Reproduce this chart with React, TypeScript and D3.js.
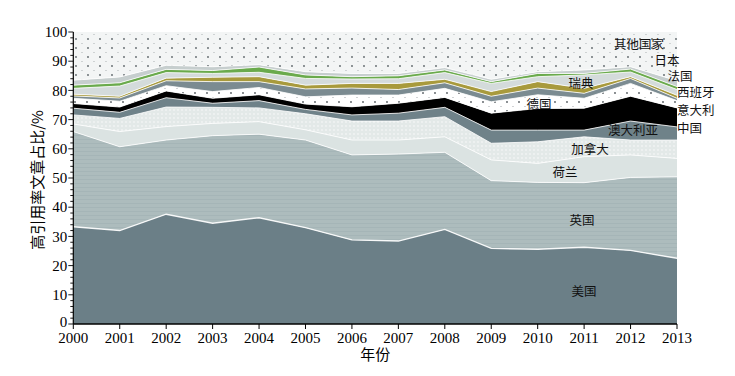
import React from "react";
import * as d3 from "d3";

const years = [2000, 2001, 2002, 2003, 2004, 2005, 2006, 2007, 2008, 2009, 2010, 2011, 2012, 2013];
const countries = ["美国", "英国", "荷兰", "加拿大", "澳大利亚", "中国", "德国", "意大利", "西班牙", "瑞典", "法国", "日本", "其他国家"];

const usa = [33.3, 32.0, 37.6, 34.5, 36.4, 33.0, 28.8, 28.4, 32.4, 25.9, 25.6, 26.3, 25.2, 22.5];
const uk = [32.6, 28.7, 25.4, 30.0, 28.6, 30.0, 29.1, 29.8, 26.4, 23.2, 22.9, 22.1, 25.0, 27.9];
const netherlands = [2.6, 5.2, 4.6, 4.2, 4.3, 3.5, 5.1, 4.8, 5.3, 7.1, 6.5, 8.9, 7.7, 6.3];
const canada = [3.1, 4.5, 6.7, 5.5, 4.7, 5.5, 6.5, 6.5, 6.9, 5.7, 7.4, 6.8, 5.1, 6.3];
const australia = [2.3, 2.1, 3.2, 1.4, 2.5, 1.5, 2.1, 2.7, 3.2, 4.5, 4.0, 2.3, 6.5, 4.5];
const china = [1.6, 1.8, 2.3, 1.7, 2.0, 1.8, 2.8, 3.4, 3.4, 5.8, 7.4, 7.5, 8.5, 6.5];
const germany = [1.8, 2.0, 1.8, 2.3, 2.5, 2.5, 4.0, 2.8, 3.1, 3.9, 4.7, 3.4, 4.4, 2.5];
const italy = [0.8, 1.1, 1.7, 3.4, 2.0, 2.7, 2.4, 1.9, 1.9, 1.9, 2.3, 1.7, 1.7, 0.8];
const spain = [0.6, 0.6, 0.9, 1.5, 1.7, 1.3, 1.6, 2.1, 1.2, 1.6, 2.2, 1.7, 0.6, 1.0];
const sweden = [2.0, 3.5, 1.9, 1.3, 1.5, 2.3, 1.5, 1.6, 2.3, 2.8, 1.7, 4.6, 1.6, 2.0];
const france = [1.1, 1.1, 1.1, 1.0, 1.8, 1.2, 0.8, 1.0, 0.9, 0.6, 1.1, 0.5, 1.0, 1.0];
const japan = [1.7, 2.0, 1.4, 1.3, 0.8, 1.1, 1.1, 0.8, 0.8, 0.8, 0.6, 1.2, 0.8, 2.0];
const others = [16.5, 15.4, 11.4, 11.9, 11.2, 13.6, 14.2, 14.2, 12.2, 16.2, 13.6, 13.0, 11.9, 16.7];

const seriesValues = [usa, uk, netherlands, canada, australia, china, germany, italy, spain, sweden, france, japan, others];

const yTicks = [0, 10, 20, 30, 40, 50, 60, 70, 80, 90, 100];
const yMinorTicks = d3.range(0, 101, 2);

const labelItems = [
  { name: "其他国家", x: 639, y: 45, anchor: "middle" },
  { name: "日本", x: 667, y: 60.5, anchor: "middle" },
  { name: "法国", x: 680, y: 77, anchor: "middle" },
  { name: "西班牙", x: 677, y: 93, anchor: "start" },
  { name: "意大利", x: 677, y: 111, anchor: "start" },
  { name: "中国", x: 677, y: 129, anchor: "start" },
  { name: "瑞典", x: 581, y: 84, anchor: "middle" },
  { name: "德国", x: 539, y: 105, anchor: "middle" },
  { name: "澳大利亚", x: 633, y: 131, anchor: "middle" },
  { name: "加拿大", x: 590, y: 150, anchor: "middle" },
  { name: "荷兰", x: 565, y: 173, anchor: "middle" },
  { name: "英国", x: 582, y: 221, anchor: "middle" },
  { name: "美国", x: 584, y: 292, anchor: "middle" },
];

const fills = [
  "#6b7f87",
  "url(#patUK)",
  "#dbe3e2",
  "url(#patCA)",
  "#6f8289",
  "#000000",
  "url(#patDE)",
  "#7b8b91",
  "#a89a3c",
  "#d4dbdb",
  "#6aaa4c",
  "#c6cece",
  "url(#patOther)",
];

export default function App() {
  const W = 735;
  const H = 376;
  const x = d3.scaleLinear().domain([2000, 2013]).range([73.3, 677]);
  const y = d3.scaleLinear().domain([0, 100]).range([324, 32]);

  const rows = years.map((yr, i) => {
    const r: any = { year: yr };
    countries.forEach((c, k) => (r[c] = seriesValues[k][i]));
    return r;
  });
  const stack = d3.stack().keys(countries);
  const layers = stack(rows as any);

  const area = d3
    .area<any>()
    .x((d) => x(d.data.year))
    .y0((d) => y(d[0]))
    .y1((d) => y(d[1]));
  const topLine = d3
    .line<any>()
    .x((d) => x(d.data.year))
    .y((d) => y(d[1]));

  const serif = "'Liberation Serif', 'Times New Roman', serif";
  const cjk = "'Noto Sans CJK SC', sans-serif";

  return (
    <svg
      width={W}
      height={H}
      style={{ position: "absolute", left: 0, top: 0, background: "#fff" }}
    >
      <defs>
        <pattern id="patUK" patternUnits="userSpaceOnUse" width="8" height="4">
          <rect width="8" height="4" fill="#adbcbd" />
          <rect y="3" width="8" height="0.7" fill="#a2b2b4" />
        </pattern>
        <pattern id="patCA" patternUnits="userSpaceOnUse" width="4" height="4">
          <rect width="4" height="4" fill="#e3e9e8" />
          <circle cx="2" cy="2" r="0.7" fill="#ffffff" />
        </pattern>
        <pattern id="patDE" patternUnits="userSpaceOnUse" width="12" height="9">
          <rect width="12" height="9" fill="#ffffff" />
          <circle cx="3" cy="3" r="0.9" fill="#555b60" />
          <circle cx="9" cy="7.5" r="0.6" fill="#9aa0a4" />
        </pattern>
        <pattern id="patOther" patternUnits="userSpaceOnUse" width="12" height="9">
          <rect width="12" height="9" fill="#f3f5f5" />
          <circle cx="4" cy="3" r="0.9" fill="#5d6569" />
          <circle cx="10" cy="7.5" r="0.6" fill="#a3a9ac" />
        </pattern>
      </defs>

      <g>
        {layers.map((layer, i) => (
          <path key={countries[i]} d={area(layer as any) || ""} fill={fills[i]} />
        ))}
        {layers.slice(0, layers.length - 1).map((layer, i) => (
          <path
            key={"l" + i}
            d={topLine(layer as any) || ""}
            fill="none"
            stroke="#ffffff"
            strokeWidth={i === 0 ? 1.4 : 0.9}
            strokeOpacity={0.9}
          />
        ))}
      </g>

      <g>
        <line x1={x(2000)} x2={x(2000)} y1={y(0)} y2={y(100)} stroke="#000" strokeWidth={1.2} />
        {yMinorTicks.map((t) => (
          <line
            key={"m" + t}
            x1={x(2000) - (t % 10 === 0 ? 5 : 3)}
            x2={x(2000)}
            y1={y(t)}
            y2={y(t)}
            stroke="#000"
            strokeWidth={0.9}
          />
        ))}
        {yTicks.map((t) => (
          <text
            key={"yt" + t}
            x={x(2000) - 6}
            y={y(t) - (t === 0 ? 2 : 0)}
            dy="0.35em"
            textAnchor="end"
            fontFamily={serif}
            fontSize={15}
            fill="#000"
          >
            {t}
          </text>
        ))}
        <text
          transform={`translate(38, ${(y(0) + y(100)) / 2 + 2}) rotate(-90)`}
          textAnchor="middle"
          dy="0.35em"
          fontFamily={cjk}
          fontSize={15}
          fill="#000"
        >
          高引用率文章占比/%
        </text>
      </g>

      <g>
        <line x1={x(2000)} x2={x(2013)} y1={y(0)} y2={y(0)} stroke="#000" strokeWidth={1.6} />
        {years.map((yr) => (
          <line key={"xt" + yr} x1={x(yr)} x2={x(yr)} y1={y(0)} y2={y(0) + 5} stroke="#000" strokeWidth={1} />
        ))}
        {years.map((yr) => (
          <text
            key={"xl" + yr}
            x={x(yr)}
            y={y(0) + 19}
            textAnchor="middle"
            fontFamily={serif}
            fontSize={15}
            fill="#000"
          >
            {yr}
          </text>
        ))}
        <text x={(x(2000) + x(2013)) / 2} y={360} textAnchor="middle" fontFamily={cjk} fontSize={15} fill="#000">
          年份
        </text>
      </g>

      <g>
        {labelItems.map((l) => (
          <text
            key={"lab" + l.name}
            x={l.x}
            y={l.y}
            dy="0.35em"
            textAnchor={l.anchor as any}
            fontFamily={cjk}
            fontSize={12.5}
            fill="#111"
          >
            {l.name}
          </text>
        ))}
      </g>
    </svg>
  );
}
